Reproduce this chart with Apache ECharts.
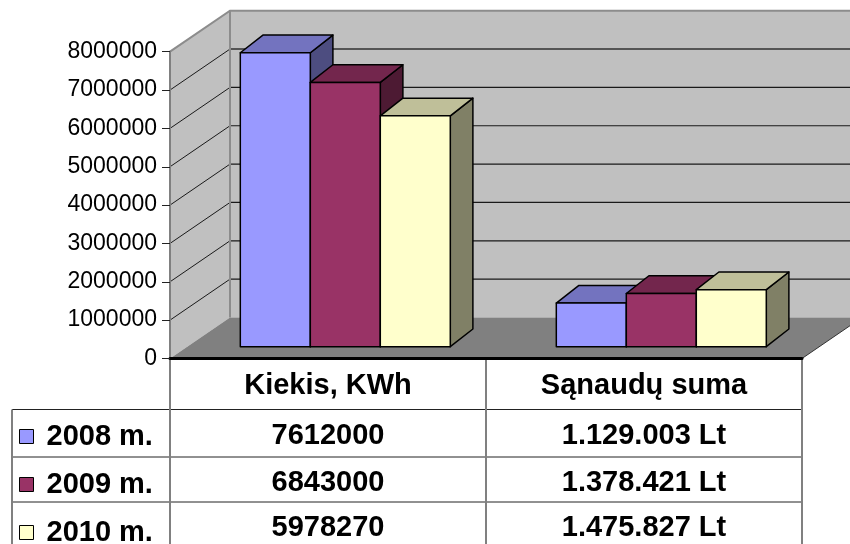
<!DOCTYPE html>
<html>
<head>
<meta charset="utf-8">
<script src="https://cdn.jsdelivr.net/npm/echarts@6/dist/echarts.min.js"></script>
<style>
html, body { margin: 0; padding: 0; background: #fff; }
#chart { width: 850px; height: 544px; }
</style>
</head>
<body>
<div id="chart"></div>
<script>
// duomenys
const categories = ['Kiekis, KWh', 'Sąnaudų suma'];
const years = ['2008 m.', '2009 m.', '2010 m.'];
const kiekis = [7612000, 6843000, 5978270];
const sanaudos = [1129003, 1378421, 1475827];
const yTicks = [0, 1000000, 2000000, 3000000, 4000000, 5000000, 6000000, 7000000, 8000000];

const colors = ['#9999FF', '#993366', '#FFFFCC'];
const FONT = "'Liberation Sans', Arial, sans-serif";

// išdėstymas (px)
const LEFT = 170, RIGHT_X = 802, TOP = 51.7, BOTTOM_Y = 358.5;
const WALL_DX = 60, WALL_DY = -41;      // sienos gylis
const PLANE_DX = 17.3, PLANE_DY = -11.8; // stulpelių priekinė plokštuma
const BAR_DX = 22.6, BAR_DY = -17.7;     // stulpelio gylis
const BAR_W = 0.2215;                    // stulpelio plotis (kategorijos dalis)
const BAR_SCALE = 1.007;
const ROWS = [409.5, 457, 502, 547];
const TABLE_LEFT = 12;
const TABLE_FONT = 29;

function shade(hex, k) {
  const n = parseInt(hex.slice(1), 16);
  const r = Math.round(((n >> 16) & 255) * k);
  const g = Math.round(((n >> 8) & 255) * k);
  const b = Math.round((n & 255) * k);
  return 'rgb(' + r + ',' + g + ',' + b + ')';
}

function fmtLt(v) {
  return String(v).replace(/\B(?=(\d{3})+(?!\d))/g, '.') + ' Lt';
}

function renderFrame(params, api) {
  const cs = params.coordSys;
  const x0 = cs.x, x1 = cs.x + cs.width;
  const yb = api.coord([0, yTicks[0]])[1];
  const yt = api.coord([0, yTicks[yTicks.length - 1]])[1];
  const children = [];
  // galinė siena
  children.push({
    type: 'polygon',
    shape: { points: [[x0 + WALL_DX, yt + WALL_DY], [x1 + WALL_DX, yt + WALL_DY], [x1 + WALL_DX, yb + WALL_DY], [x0 + WALL_DX, yb + WALL_DY]] },
    style: { fill: '#C0C0C0' }
  });
  // šoninė siena
  children.push({
    type: 'polygon',
    shape: { points: [[x0, yt], [x0 + WALL_DX, yt + WALL_DY], [x0 + WALL_DX, yb + WALL_DY], [x0, yb]] },
    style: { fill: '#C0C0C0' }
  });
  // grindys
  children.push({
    type: 'polygon',
    shape: { points: [[x0, yb], [x1, yb], [x1 + WALL_DX, yb + WALL_DY], [x0 + WALL_DX, yb + WALL_DY]] },
    style: { fill: '#808080' }
  });
  children.push({
    type: 'line',
    shape: { x1: x1, y1: yb, x2: x1 + WALL_DX, y2: yb + WALL_DY },
    style: { stroke: '#333', lineWidth: 1 }
  });
  // tinklelis
  yTicks.forEach((t, i) => {
    const y = api.coord([0, t])[1];
    if (i > 0 && i < yTicks.length - 1) {
      children.push({
        type: 'line',
        shape: { x1: x0 + WALL_DX, y1: y + WALL_DY, x2: x1 + WALL_DX, y2: y + WALL_DY },
        style: { stroke: i === yTicks.length - 2 ? '#555' : '#1a1a1a', lineWidth: i === yTicks.length - 2 ? 2 : 1.2 }
      });
      children.push({
        type: 'line',
        shape: { x1: x0, y1: y, x2: x0 + WALL_DX, y2: y + WALL_DY },
        style: { stroke: '#1a1a1a', lineWidth: 1 }
      });
    }
  });
  // kraštai
  children.push({
    type: 'polyline',
    shape: { points: [[x0, yt], [x0 + WALL_DX, yt + WALL_DY], [x1 + WALL_DX, yt + WALL_DY]] },
    style: { stroke: '#8c8c8c', lineWidth: 2, fill: null }
  });
  children.push({
    type: 'line',
    shape: { x1: x0 + WALL_DX, y1: yt + WALL_DY, x2: x0 + WALL_DX, y2: yb + WALL_DY },
    style: { stroke: '#8c8c8c', lineWidth: 2 }
  });
  return { type: 'group', children: children };
}

function makeBar(si) {
  return function (params, api) {
    const cat = api.value(0);
    const base = api.coord([cat, 0]);
    const top = api.coord([cat, api.value(1)]);
    const w = api.size([1, 0])[0] * BAR_W;
    const xl = base[0] + PLANE_DX - w * 1.5 + si * w;
    const xr = xl + w;
    const yb = base[1] + PLANE_DY;
    const yt = yb - (base[1] - top[1]) * BAR_SCALE;
    const c = colors[si];
    const st = { stroke: '#000', lineWidth: 1.5, lineJoin: 'round' };
    return {
      type: 'group',
      children: [
        { type: 'polygon', shape: { points: [[xr, yt], [xr + BAR_DX, yt + BAR_DY], [xr + BAR_DX, yb + BAR_DY], [xr, yb]] }, style: Object.assign({ fill: shade(c, 0.5) }, st) },
        { type: 'polygon', shape: { points: [[xl, yt], [xl + BAR_DX, yt + BAR_DY], [xr + BAR_DX, yt + BAR_DY], [xr, yt]] }, style: Object.assign({ fill: shade(c, 0.75) }, st) },
        { type: 'rect', shape: { x: xl, y: yt, width: w, height: yb - yt }, style: Object.assign({ fill: c }, st) }
      ]
    };
  };
}

// lentelė
const band = (RIGHT_X - LEFT) / categories.length;
const tableGraphic = [];
ROWS.slice(0, 3).forEach(y => {
  tableGraphic.push({ type: 'line', shape: { x1: TABLE_LEFT, y1: y, x2: RIGHT_X, y2: y }, style: { stroke: '#222', lineWidth: 1 } });
});
[TABLE_LEFT, LEFT, LEFT + band, RIGHT_X].forEach((x, i) => {
  tableGraphic.push({ type: 'line', shape: { x1: x, y1: i === 0 ? ROWS[0] : BOTTOM_Y + 1, x2: x, y2: 544 }, style: { stroke: '#808080', lineWidth: 2 } });
});
years.forEach((yr, i) => {
  const cy = (ROWS[i] + ROWS[i + 1]) / 2 + 3;
  [String(kiekis[i]), fmtLt(sanaudos[i])].forEach((txt, j) => {
    tableGraphic.push({
      type: 'text', x: LEFT + band * (j + 0.5), y: cy,
      style: { text: txt, fontFamily: FONT, fontSize: TABLE_FONT, fontWeight: 'bold', fill: '#000', align: 'center', verticalAlign: 'middle' }
    });
  });
});

const series = [{
  type: 'custom', name: 'frame', z: 1, silent: true,
  data: [[0, 0]],
  renderItem: renderFrame
}];
years.forEach((yr, i) => {
  series.push({
    type: 'custom', name: yr, z: 3 + i,
    itemStyle: { color: colors[i] },
    data: categories.map((c, j) => [j, j === 0 ? kiekis[i] : sanaudos[i]]),
    renderItem: makeBar(i)
  });
});

const chart = echarts.init(document.getElementById('chart'));
chart.setOption({
  animation: false,
  backgroundColor: '#fff',
  grid: { left: LEFT, top: TOP, width: RIGHT_X - LEFT, height: BOTTOM_Y - TOP },
  xAxis: {
    type: 'category', data: categories, z: 10,
    axisLine: { lineStyle: { color: '#000', width: 3 } },
    axisTick: { show: false },
    axisLabel: { margin: 13, fontFamily: FONT, fontSize: TABLE_FONT, fontWeight: 'bold', color: '#000' }
  },
  yAxis: {
    type: 'value', min: 0, max: 8000000, interval: 1000000, z: 10,
    axisLine: { show: true, lineStyle: { color: '#808080', width: 2 } },
    axisTick: { show: true, length: 8, lineStyle: { color: '#222' } },
    splitLine: { show: false },
    axisLabel: { margin: 13, fontFamily: FONT, fontSize: 23, color: '#000', formatter: v => String(v) }
  },
  legend: {
    data: years, orient: 'vertical', left: 19, top: 422, height: 160, width: 150, padding: 0,
    itemWidth: 14, itemHeight: 14, itemGap: 19, icon: 'rect',
    selectedMode: false,
    itemStyle: { borderColor: '#000', borderWidth: 1 },
    textStyle: { fontFamily: FONT, fontSize: TABLE_FONT, lineHeight: 27, fontWeight: 'bold', color: '#000', padding: [0, 0, 0, 8] }
  },
  graphic: tableGraphic,
  series: series
});
</script>
</body>
</html>
